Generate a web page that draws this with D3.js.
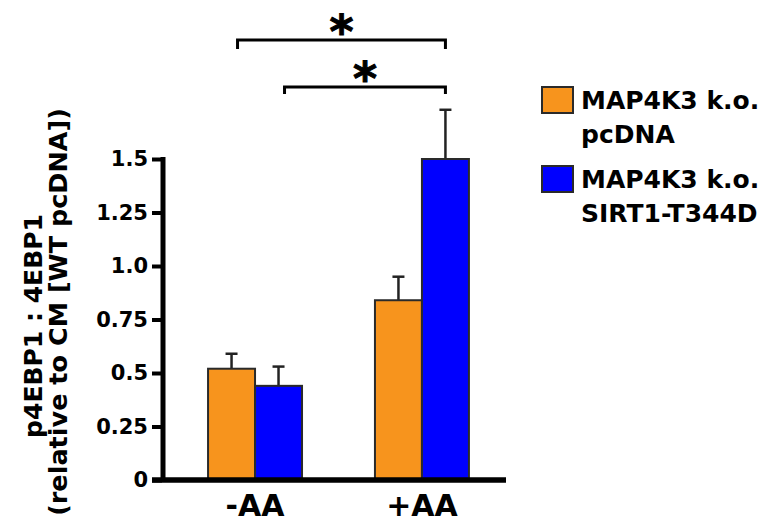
<!DOCTYPE html>
<html>
<head>
<meta charset="utf-8">
<script src="https://cdn.jsdelivr.net/npm/d3@7"></script>
<style>
  body { margin: 0; background: #fff; }
  text { font-family: "DejaVu Sans", "Liberation Sans", Arial, sans-serif; font-weight: bold; fill: #000; }
</style>
</head>
<body>
<div id="chart"></div>
<script>
// data
const groups = ["-AA", "+AA"];
const series = ["MAP4K3 k.o. pcDNA", "MAP4K3 k.o. SIRT1-T344D"];
const legendLines = [["MAP4K3 k.o.", "pcDNA"], ["MAP4K3 k.o.", "SIRT1-T344D"]];
const orangeValues = [0.52, 0.84];
const orangeErrors = [0.07, 0.11];
const blueValues = [0.44, 1.50];
const blueErrors = [0.09, 0.23];
const yTicks = [0, 0.25, 0.5, 0.75, 1.0, 1.25, 1.5];
const yTickLabels = ["0", "0.25", "0.5", "0.75", "1.0", "1.25", "1.5"];
// significance brackets: [group, series] -> [group, series]
const brackets = [
    {from: ["-AA", series[0]], to: ["+AA", series[1]], label: "*"},
    {from: ["-AA", series[1]], to: ["+AA", series[1]], label: "*"}
];

const colors = ["#f7941d", "#0000ff"];
const width = 767, height = 523;

const svg = d3.select("#chart").append("svg")
    .attr("width", width)
    .attr("height", height);

const axisX = 162, baseY = 480;

const y = d3.scaleLinear().domain([0, 1.5]).range([baseY, 159]);
const x0 = d3.scaleBand().domain(groups).range([axisX, 506])
    .paddingInner(0.437).paddingOuter(0.249).align(0.554);
const x1 = d3.scaleBand().domain(series).range([0, x0.bandwidth()]);

const rows = [];
groups.forEach((g, i) => {
    rows.push({group: g, s: series[0], v: orangeValues[i], e: orangeErrors[i], c: colors[0]});
    rows.push({group: g, s: series[1], v: blueValues[i], e: blueErrors[i], c: colors[1]});
});

// error bars (drawn first so the bar outline sits on top)
const errG = svg.append("g");
rows.forEach(d => {
    const cx = x0(d.group) + x1(d.s) + x1.bandwidth() / 2;
    errG.append("line")
        .attr("x1", cx).attr("x2", cx)
        .attr("y1", y(d.v)).attr("y2", y(d.v + d.e))
        .attr("stroke", "#222").attr("stroke-width", 2.5);
    errG.append("line")
        .attr("x1", cx - 6).attr("x2", cx + 6)
        .attr("y1", y(d.v + d.e)).attr("y2", y(d.v + d.e))
        .attr("stroke", "#222").attr("stroke-width", 2.5);
});

// bars
svg.append("g").selectAll("rect")
    .data(rows)
    .join("rect")
    .attr("x", d => x0(d.group) + x1(d.s))
    .attr("y", d => y(d.v))
    .attr("width", x1.bandwidth())
    .attr("height", d => y(0) - y(d.v))
    .attr("fill", d => d.c)
    .attr("stroke", "#2a2a2a")
    .attr("stroke-width", 2);

// y axis
const yAxis = d3.axisLeft(y)
    .tickValues(yTicks)
    .tickFormat((d, i) => yTickLabels[i])
    .tickSize(10)
    .tickPadding(4)
    .tickSizeOuter(0);

const yg = svg.append("g")
    .attr("transform", `translate(${axisX},0)`)
    .call(yAxis);
yg.select(".domain").remove();
yg.selectAll(".tick line").attr("stroke", "#000").attr("stroke-width", 4);
yg.selectAll(".tick text")
    .style("font-family", "'DejaVu Sans', sans-serif")
    .style("font-weight", "bold")
    .style("font-size", "21px")
    .attr("fill", "#000");

svg.append("rect")
    .attr("x", axisX - 1.5).attr("width", 5)
    .attr("y", y(1.5) - 2).attr("height", baseY - y(1.5) + 2)
    .attr("fill", "#000");

// x axis baseline
svg.append("rect")
    .attr("x", 152).attr("width", 506 - 152)
    .attr("y", baseY - 2.75).attr("height", 5.5)
    .attr("fill", "#000");

// group labels
svg.append("g").selectAll("text")
    .data(groups)
    .join("text")
    .attr("x", d => x0(d) + x0.bandwidth() / 2)
    .attr("y", 516)
    .attr("text-anchor", "middle")
    .style("font-size", "30px")
    .text(d => d);

// y axis title
const yTitle = svg.append("g");
yTitle.append("text")
    .attr("transform", "translate(42,326) rotate(-90)")
    .attr("text-anchor", "middle")
    .style("font-size", "25px")
    .text("p4EBP1 : 4EBP1");
yTitle.append("text")
    .attr("transform", "translate(67,312) rotate(-90)")
    .attr("text-anchor", "middle")
    .style("font-size", "25.5px")
    .text("(relative to CM [WT pcDNA])");

// significance brackets
const bx = ([g, s]) => x0(g) + x1(s) + x1.bandwidth() / 2;
const bracketY = [40, 87];
const bracketDrop = [9, 7];
brackets.forEach((b, i) => {
    const xa = bx(b.from) + 6, xb = bx(b.to);
    const by = bracketY[i];
    svg.append("path")
        .attr("d", `M${xa},${by + bracketDrop[i]}V${by}H${xb}V${by + bracketDrop[i]}`)
        .attr("fill", "none")
        .attr("stroke", "#000")
        .attr("stroke-width", 3);
    svg.append("text")
        .attr("x", (xa + xb) / 2)
        .attr("y", by + 8)
        .attr("text-anchor", "middle")
        .style("font-size", "46px")
        .style("stroke", "#000")
        .style("stroke-width", 1)
        .text(b.label);
});

// legend
const legend = svg.append("g").attr("transform", "translate(542,87)");
series.forEach((s, i) => {
    const g = legend.append("g").attr("transform", `translate(0,${i * 79})`);
    g.append("rect")
        .attr("width", 31).attr("height", 26)
        .attr("fill", colors[i])
        .attr("stroke", "#2a2a2a")
        .attr("stroke-width", 2);
    legendLines[i].forEach((t, j) => {
        g.append("text")
            .attr("x", 39)
            .attr("y", 22 + j * 34)
            .style("font-size", "25px")
            .text(t);
    });
});
</script>
</body>
</html>
